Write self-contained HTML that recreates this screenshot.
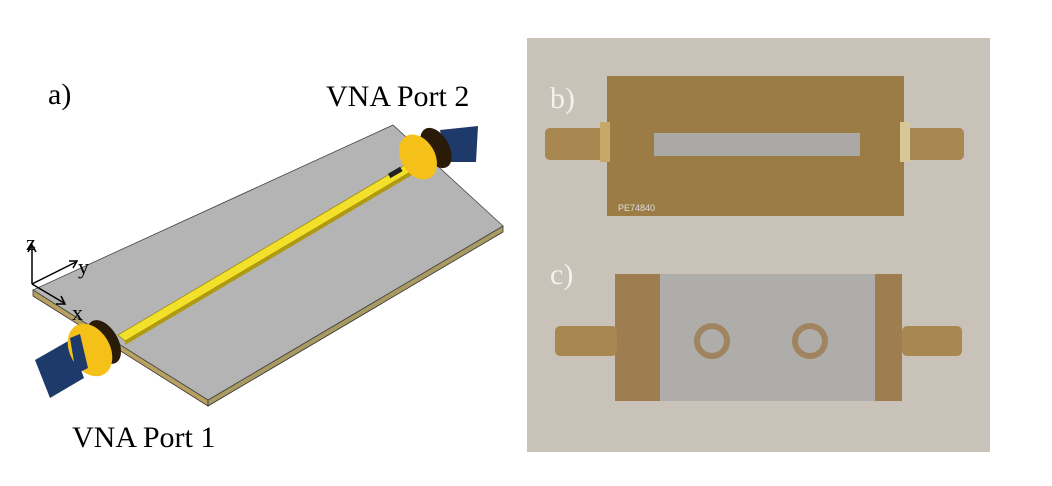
<!DOCTYPE html>
<html><head><meta charset="utf-8"><style>
html,body{margin:0;padding:0;background:#fff;width:1052px;height:486px;overflow:hidden}
</style></head><body>
<svg width="1052" height="486" viewBox="0 0 1052 486" xmlns="http://www.w3.org/2000/svg" font-family="Liberation Serif, serif">
<rect width="1052" height="486" fill="#fff"/>
<!-- board a -->
<polygon points="33,290 208,400 208,406 33,296" fill="#b8a060" stroke="#333" stroke-width="0.8"/>
<polygon points="208,400 503,226 503,232 208,406" fill="#a99a62" stroke="#333" stroke-width="0.8"/>
<polygon points="393,125 503,226 208,400 33,290" fill="#b4b4b4" stroke="#444" stroke-width="0.8"/>
<!-- strip -->
<polygon points="118,335 405,165 412,171 125,341" fill="#f2e02a" stroke="#a08a10" stroke-width="0.8"/>
<polygon points="125,341 412,171 412,175 125,345" fill="#b09a10"/>
<rect x="388" y="170" width="14" height="5" fill="#222" transform="rotate(-30 395 172)"/>
<!-- connector 1 -->
<polygon points="35,360 70,340 84,378 50,398" fill="#1e3a6a"/>
<ellipse cx="104" cy="342" rx="14" ry="24" fill="#2a1a08" transform="rotate(-30 104 342)"/>
<ellipse cx="90" cy="350" rx="20" ry="28" fill="#f5c018" transform="rotate(-30 90 350)"/>
<polygon points="70,338 80,334 88,368 76,374" fill="#1e3a6a"/>
<!-- connector 2 -->
<polygon points="440,130 478,126 476,162 446,162" fill="#1e3a6a"/>
<ellipse cx="436" cy="148" rx="13" ry="22" fill="#2a1a08" transform="rotate(-30 436 148)"/>
<ellipse cx="418" cy="157" rx="17" ry="24" fill="#f5c018" transform="rotate(-30 418 157)"/>
<!-- axes -->
<g stroke="#000" stroke-width="1.5" fill="none">
<path d="M32,284 L32,247"/><path d="M28,252 L32,245 L36,252"/>
<path d="M32,284 L76,262"/><path d="M69,261 L77,261 L73,268"/>
<path d="M32,284 L64,303"/><path d="M56,304 L65,304 L61,296"/>
</g>
<text x="26" y="250" font-size="22">z</text>
<text x="78" y="274" font-size="22">y</text>
<text x="72" y="320" font-size="22">x</text>
<text x="48" y="104" font-size="30">a)</text>
<text x="326" y="106" font-size="30">VNA Port 2</text>
<text x="72" y="447" font-size="30">VNA Port 1</text>
<!-- photo -->
<rect x="527" y="38" width="463" height="414" fill="#c9c2b8"/>
<!-- board b -->
<rect x="607" y="76" width="297" height="140" fill="#9c7c45"/>
<rect x="654" y="133" width="206" height="23" fill="#aaa9a6"/>
<rect x="545" y="128" width="62" height="32" rx="5" fill="#a88850"/>
<rect x="600" y="122" width="10" height="40" fill="#c8a868"/>
<rect x="904" y="128" width="60" height="32" rx="5" fill="#a88850"/>
<rect x="900" y="122" width="10" height="40" fill="#d8c898"/>
<text x="618" y="211" font-size="9" fill="#ddd" font-family="Liberation Sans, sans-serif">PE74840</text>
<!-- board c -->
<rect x="615" y="274" width="287" height="127" fill="#9e7e50"/>
<rect x="660" y="274" width="215" height="127" fill="#aeadaa"/>
<circle cx="712" cy="341" r="15" fill="none" stroke="#a08460" stroke-width="6"/>
<circle cx="810" cy="341" r="15" fill="none" stroke="#a08460" stroke-width="6"/>
<rect x="555" y="326" width="62" height="30" rx="5" fill="#a88850"/>
<rect x="902" y="326" width="60" height="30" rx="5" fill="#a88850"/>
<text x="550" y="108" font-size="30" fill="#f4f2ee">b)</text>
<text x="550" y="284" font-size="30" fill="#f4f2ee">c)</text>
</svg>
</body></html>
